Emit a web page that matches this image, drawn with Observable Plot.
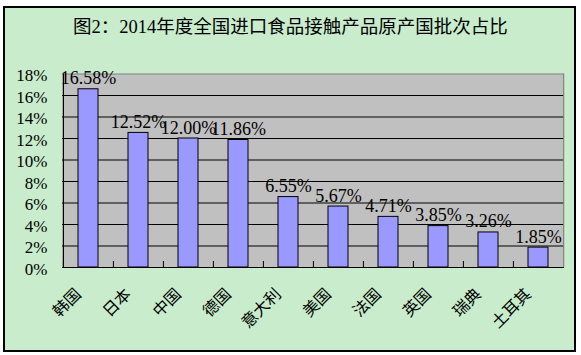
<!DOCTYPE html>
<html>
<head>
<meta charset="utf-8">
<script src="https://cdn.jsdelivr.net/npm/d3@7"></script>
<script src="https://cdn.jsdelivr.net/npm/@observablehq/plot@0.6"></script>
<style>
  html, body { margin: 0; padding: 0; background: #ffffff; }
  #wrap { position: relative; width: 581px; height: 355px; overflow: hidden; }
  #box { position: absolute; left: 3px; top: 6px; width: 573px; height: 346px; box-sizing: border-box;
         border: 2px solid #000; background: #C8ECCC; }
  #title { position: relative; height: 50px; box-sizing: border-box; padding-top: 17px; text-align: center;
           font-family: 'Liberation Serif', 'Noto Sans CJK SC', serif; font-size: 18.5px; line-height: 20px; color: #000; }
  #chart { position: relative; }
</style>
</head>
<body>
<div id="wrap">
  <div id="box"></div>
  <div id="title"></div>
  <div id="chart"></div>
</div>
<script>
const title = "图2：2014年度全国进口食品接触产品原产国批次占比";
const categories = ["韩国", "日本", "中国", "德国", "意大利", "美国", "法国", "英国", "瑞典", "土耳其"];
const shares = [16.58, 12.52, 12.00, 11.86, 6.55, 5.67, 4.71, 3.85, 3.26, 1.85];
const yTicks = [0, 2, 4, 6, 8, 10, 12, 14, 16, 18];

document.getElementById("title").textContent = title;

const data = categories.map((c, i) => ({category: c, share: shares[i]}));

const W = 581, H = 305;
const ML = 62, MR = 17, MT = 23.5, MB = 88;
const step = (W - ML - MR) / categories.length;
const yMax = yTicks[yTicks.length - 1];
const tickLen = 6 * yMax / (H - MT - MB);

const chart = Plot.plot({
  width: W,
  height: H,
  marginLeft: ML,
  marginRight: MR,
  marginTop: MT,
  marginBottom: MB,
  style: {background: "transparent", fontFamily: "'Liberation Serif', 'Noto Sans CJK SC', serif", color: "#000", overflow: "visible"},
  x: {type: "band", domain: categories, paddingInner: 0.61, paddingOuter: 0.305, axis: null, label: null},
  y: {domain: [0, yMax], axis: null, label: null},
  marks: [
    Plot.frame({fill: "#C0C0C0", stroke: "none"}),
    Plot.ruleY(yTicks.slice(0, -1), {stroke: "#000", strokeWidth: 1}),
    Plot.ruleY([yMax], {stroke: "#808080", strokeWidth: 1}),
    Plot.ruleX([categories[categories.length - 1]], {dx: step / 2, y1: 0, y2: yMax, stroke: "#808080", strokeWidth: 1}),
    Plot.ruleX(categories, {x: d => d, dx: -step / 2, y1: 0, y2: tickLen, stroke: "#000", strokeWidth: 1}),
    Plot.barY(data, {x: "category", y: "share", fill: "#9999FF", stroke: "#000", strokeWidth: 1}),
    Plot.ruleX([categories[0]], {dx: -step / 2, y1: 0, y2: yMax, stroke: "#000", strokeWidth: 1.2}),
    Plot.ruleY([0], {stroke: "#000", strokeWidth: 1.2}),
    Plot.text(data, {x: "category", y: "share", text: d => d.share.toFixed(2) + "%", lineAnchor: "bottom", dy: -5, fontSize: 18, fill: "#000"}),
    Plot.axisY(yTicks, {tickSize: 0, tickPadding: 15, tickFormat: d => d + "%", fontSize: 17, dy: 2, fill: "#000", label: null}),
    Plot.text(categories, {x: d => d, frameAnchor: "bottom", rotate: -45, textAnchor: "end", lineAnchor: "middle",
      dx: -10, dy: 24, fontSize: 16, fontFamily: "'Noto Sans CJK SC', sans-serif", fill: "#000"})
  ]
});
document.getElementById("chart").appendChild(chart);
</script>
</body>
</html>
